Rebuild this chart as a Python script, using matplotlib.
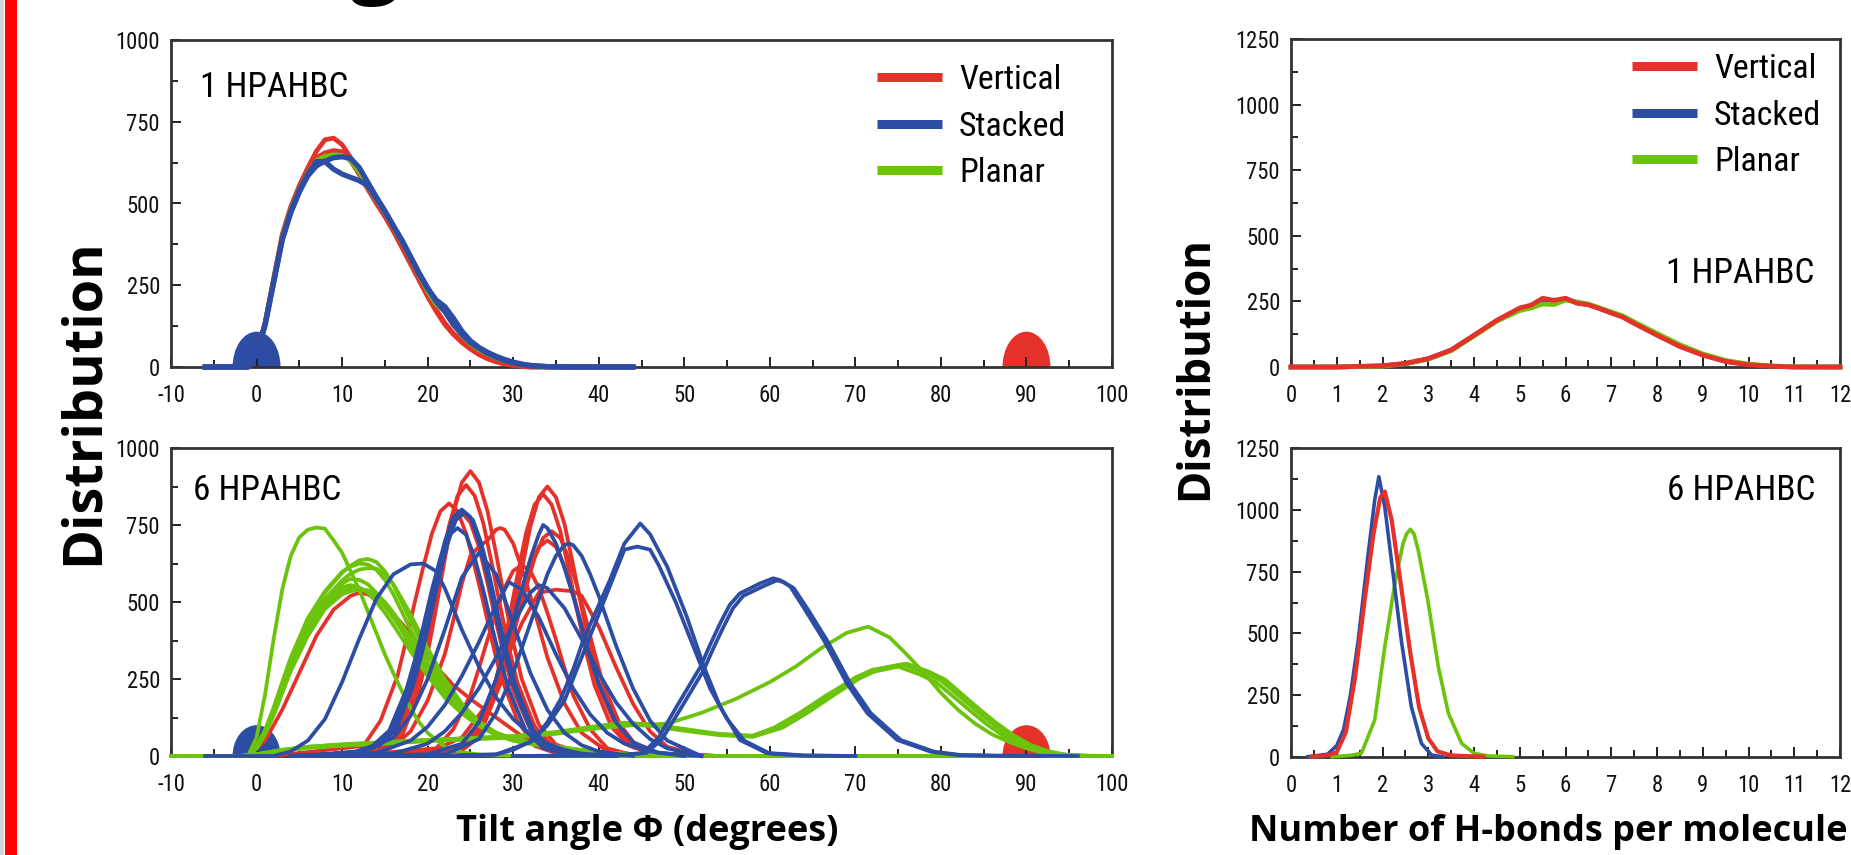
import os
import matplotlib
matplotlib.use('Agg')
import matplotlib.pyplot as plt
from matplotlib import font_manager as fm
from matplotlib.font_manager import FontProperties
from matplotlib.patches import Ellipse, Rectangle
from matplotlib.lines import Line2D
from matplotlib.ticker import MultipleLocator

# ---------------- data ----------------
series_names = ['Vertical', 'Stacked', 'Planar']
ref_angle_stacked = 0
ref_angle_vertical = 90

# Panel: tilt angle, 1 HPAHBC
tilt1_x = [-6, -1, 0, 1, 2, 3, 4, 5, 6, 7, 8, 9, 10, 11, 12, 13, 14, 15, 16, 17, 18, 19,
           20, 21, 22, 23, 24, 25, 26, 27, 28, 29, 30, 31, 32, 34, 36, 44]
tilt1_vertical = [
    [0, 0, 40, 135, 270, 405, 490, 555, 610, 660, 695, 700, 680, 640, 590, 545, 500, 460, 415, 365,
     315, 265, 215, 170, 130, 100, 75, 55, 38, 25, 16, 9, 5, 2, 0, 0, 0, 0],
    [0, 0, 40, 135, 268, 400, 485, 548, 600, 640, 655, 662, 658, 630, 590, 545, 505, 462, 418, 370,
     320, 270, 220, 175, 135, 103, 78, 57, 40, 27, 17, 10, 5, 2, 0, 0, 0, 0],
]
tilt1_planar = [
    [0, 0, 38, 132, 265, 398, 482, 545, 595, 632, 645, 650, 648, 630, 595, 550, 510, 470, 425, 380,
     330, 280, 230, 190, 170, 130, 95, 70, 52, 38, 27, 18, 12, 7, 4, 1, 0, 0],
]
tilt1_stacked = [
    [0, 0, 40, 130, 260, 390, 475, 540, 590, 628, 628, 605, 590, 580, 570, 555, 515, 475, 430, 385,
     335, 285, 240, 205, 185, 150, 110, 80, 60, 45, 33, 23, 15, 9, 5, 1, 0, 0],
    [0, 0, 38, 128, 258, 388, 472, 535, 585, 615, 630, 640, 643, 638, 610, 565, 520, 478, 432, 388,
     338, 288, 242, 200, 170, 130, 100, 75, 57, 42, 30, 20, 13, 8, 4, 1, 0, 0],
]

# Panel: tilt angle, 6 HPAHBC  (each curve: x list, y list)
tilt6_vertical = [
    ([5, 15, 17, 19, 20, 21, 22, 23, 24, 25, 26, 27, 28, 29, 30, 31, 33, 35, 38, 44],
     [0, 18, 65, 213, 333, 481, 638, 786, 888, 925, 888, 795, 657, 509, 370, 250, 102, 37, 9, 0]),
    ([5, 14.5, 16.5, 18.5, 19.5, 20.5, 21.5, 22.5, 23.5, 24.5, 25.5, 26.5, 27.5, 28.5, 29.5, 30.5, 32.5, 34.5, 37.5, 44],
     [0, 18, 62, 202, 317, 458, 607, 748, 845, 880, 845, 757, 625, 484, 352, 238, 97, 35, 9, 0]),
    ([2, 12.5, 14.5, 16.5, 17.5, 18.5, 19.5, 20.5, 21.5, 22.5, 23.5, 24.5, 25.5, 26.5, 27.5, 28.5, 30.5, 32.5, 35.5, 42],
     [0, 33, 115, 262, 377, 500, 615, 722, 795, 820, 795, 722, 615, 500, 377, 262, 115, 33, 4, 0]),
    ([5, 14, 16, 18, 19, 20, 21, 22, 23, 24, 25, 26, 27, 28, 29, 30, 32, 34, 37, 44],
     [0, 16, 55, 182, 284, 411, 545, 672, 758, 790, 758, 679, 561, 435, 316, 213, 87, 32, 8, 0]),
    ([5, 14, 16, 18, 20, 22, 23, 24, 25, 26, 27, 28, 28.5, 29, 30, 31, 32, 33, 34, 36, 38, 41, 46],
     [0, 10, 30, 80, 180, 330, 440, 560, 650, 680, 700, 735, 740, 735, 690, 610, 520, 420, 320, 170, 75, 15, 0]),
    ([12, 24, 26, 28, 29, 30, 31, 32, 33, 34, 35, 36, 37, 38, 39, 40, 42, 44, 47, 54],
     [0, 18, 61, 201, 315, 455, 604, 744, 840, 875, 840, 753, 621, 481, 350, 236, 96, 35, 9, 0]),
    ([12, 23.5, 25.5, 27.5, 28.5, 29.5, 30.5, 31.5, 32.5, 33.5, 34.5, 35.5, 36.5, 37.5, 38.5, 39.5, 41.5, 43.5, 46.5, 54],
     [0, 17, 60, 196, 306, 442, 587, 723, 816, 850, 816, 731, 604, 468, 340, 230, 94, 34, 9, 0]),
    ([12, 24.5, 26.5, 28.5, 29.5, 30.5, 31.5, 32.5, 33.5, 34.5, 35.5, 36.5, 37.5, 38.5, 39.5, 40.5, 42.5, 44.5, 47.5, 54],
     [0, 29, 102, 234, 336, 445, 548, 642, 708, 730, 708, 642, 548, 445, 336, 234, 102, 29, 4, 0]),
    ([12, 24, 26, 28, 29, 30, 31, 32, 33, 34, 35, 36, 37, 38, 39, 40, 42, 44, 47, 54],
     [0, 28, 98, 224, 322, 427, 525, 616, 679, 700, 679, 616, 525, 427, 322, 224, 98, 28, 4, 0]),
    ([10, 21, 23, 25, 26, 27, 28, 29, 30, 31, 32, 33, 34, 35, 36, 37, 39, 41, 44, 50],
     [0, 25, 87, 198, 285, 378, 465, 546, 601, 620, 601, 546, 465, 378, 285, 198, 87, 25, 3, 0]),
    ([10, 20, 24, 27, 29, 31, 33, 35, 37, 38, 40, 42, 44, 46, 48, 52],
     [0, 10, 60, 170, 300, 430, 530, 540, 535, 520, 420, 290, 170, 80, 30, 0]),
    ([-6, -1, 1, 3, 5, 7, 9, 11, 12, 13, 15, 17, 19, 21, 23, 25, 27, 29, 31, 33, 36, 40],
     [0, 0, 50, 150, 270, 390, 475, 520, 530, 525, 490, 430, 360, 290, 230, 185, 145, 105, 65, 35, 12, 0]),
]

tilt6_stacked = [
    ([-6, 2, 4, 6, 8, 10, 12, 14, 16, 18, 19.5, 21, 22, 24, 26, 28, 30, 32, 34, 36, 38, 42],
     [0, 0, 15, 50, 120, 240, 380, 510, 590, 622, 625, 600, 545, 410, 290, 190, 120, 70, 40, 20, 8, 0]),
    ([4, 8, 12, 14, 16, 18, 19, 20, 21, 22, 23, 24, 25, 26, 27, 28, 29, 30, 32, 34, 37, 42],
     [0, 5, 15, 35, 88, 232, 336, 456, 584, 696, 776, 800, 776, 696, 584, 456, 336, 232, 88, 28, 5, 0]),
    ([4, 8.3, 12.3, 14.3, 16.3, 18.3, 19.3, 20.3, 21.3, 22.3, 23.3, 24.3, 25.3, 26.3, 27.3, 28.3, 29.3, 30.3, 32.3, 34.3, 37.3, 42],
     [0, 5, 15, 33, 85, 228, 330, 450, 576, 688, 766, 790, 766, 688, 576, 450, 330, 228, 86, 27, 5, 0]),
    ([4, 7.5, 11.5, 13.5, 15.5, 17.5, 18.5, 19.5, 20.5, 21.5, 22.5, 23.5, 24.5, 25.5, 26.5, 27.5, 28.5, 29.5, 31.5, 33.5, 36.5, 42],
     [0, 5, 14, 32, 82, 215, 311, 422, 540, 644, 718, 740, 718, 644, 540, 422, 311, 215, 81, 26, 5, 0]),
    ([4, 12, 16, 18, 20, 22, 24, 26, 28, 30, 32, 34, 36, 38, 40, 44],
     [0, 10, 60, 130, 250, 410, 580, 660, 590, 430, 270, 150, 75, 35, 15, 0]),
    ([4, 14, 18, 20, 22, 24, 26, 28, 29.5, 31, 33, 35, 37, 39, 41, 43, 46, 50],
     [0, 10, 50, 95, 165, 260, 370, 490, 565, 540, 450, 330, 220, 135, 75, 40, 15, 0]),
    ([6, 16, 20, 22, 24, 26, 28, 30, 32, 33, 34, 36, 38, 40, 42, 44, 46, 48, 52],
     [0, 8, 40, 80, 140, 220, 320, 430, 530, 555, 545, 480, 380, 270, 175, 105, 55, 25, 0]),
    ([10, 20, 24, 26, 28, 29, 30, 31, 32, 33, 33.5, 34, 35, 36, 37, 38, 39, 40, 42, 44, 47, 52],
     [0, 5, 40, 110, 250, 340, 440, 540, 640, 720, 750, 740, 690, 610, 520, 420, 320, 235, 110, 45, 10, 0]),
    ([10, 22, 26, 28, 30, 32, 34, 35, 36, 36.5, 37, 38, 39, 40, 42, 44, 46, 48, 52],
     [0, 5, 55, 140, 270, 430, 590, 650, 685, 690, 685, 650, 590, 520, 360, 220, 115, 50, 0]),
    ([20, 28, 30, 32.4, 34, 35.5, 37, 38.2, 40, 41.3, 43, 44.85, 46, 48, 50.3, 52.3, 54.2, 56.5, 59.6, 64, 70],
     [0, 5, 20, 52, 110, 182, 280, 377, 490, 571, 690, 755, 720, 615, 452, 290, 160, 52, 10, 2, 0]),
    ([20, 28, 32, 34, 36, 38, 40, 42, 43, 44.5, 46, 47, 49, 51, 53, 55, 57, 60, 64, 70],
     [0, 5, 45, 100, 180, 320, 460, 600, 670, 680, 670, 620, 500, 360, 220, 120, 50, 8, 1, 0]),
    ([30, 42, 45.2, 47, 49.1, 50.5, 51.9, 53, 54.2, 55.3, 56.5, 58.9, 60.4, 61.2, 62.4, 64, 66.3, 69, 71.4, 74.9, 78.8, 82, 86, 92],
     [0, 2, 10, 60, 160, 225, 290, 360, 431, 490, 528, 561, 577, 571, 550, 480, 377, 236, 139, 52, 14, 3, 1, 0]),
    ([30, 42.4, 45.6, 47.4, 49.5, 50.9, 52.3, 53.4, 54.6, 55.7, 56.9, 59.3, 60.8, 61.6, 62.8, 64.4, 66.7, 69.4, 71.8, 75.3, 79.2, 82.4, 86.4, 96],
     [0, 2, 10, 55, 150, 215, 280, 350, 420, 480, 520, 552, 570, 565, 545, 478, 375, 236, 139, 52, 14, 3, 1, 0]),
]

planar6_cluster_x = [-10, -1, 0, 1, 2, 3, 4, 6, 8, 10, 11, 12, 13, 14, 15, 16, 18, 20, 22, 24, 26, 28, 30, 33, 36, 40, 45, 50, 100]
planar6_cluster = [
    [0, 0, 30, 80, 150, 230, 310, 440, 530, 595, 618, 635, 640, 630, 600, 555, 440, 325, 235, 160, 105, 70, 52, 36, 25, 12, 4, 0, 0],
    [0, 0, 32, 85, 158, 240, 320, 448, 535, 598, 615, 625, 622, 605, 572, 525, 410, 300, 215, 148, 100, 68, 50, 35, 24, 11, 4, 0, 0],
    [0, 0, 28, 78, 145, 222, 298, 415, 505, 560, 575, 572, 558, 530, 495, 455, 360, 270, 195, 140, 98, 68, 50, 34, 22, 10, 3, 0, 0],
    [0, 0, 27, 75, 140, 215, 290, 405, 495, 548, 555, 548, 530, 500, 465, 425, 340, 260, 190, 138, 98, 70, 52, 36, 24, 10, 3, 0, 0],
    [0, 0, 25, 72, 135, 208, 282, 398, 485, 535, 545, 545, 535, 515, 485, 448, 368, 285, 210, 150, 105, 72, 54, 38, 25, 11, 3, 0, 0],
    [0, 0, 24, 70, 132, 204, 276, 390, 478, 525, 535, 540, 538, 525, 500, 465, 385, 300, 222, 158, 110, 76, 56, 40, 27, 12, 4, 0, 0],
    [0, 0, 26, 74, 140, 215, 292, 420, 510, 570, 592, 605, 610, 608, 590, 558, 460, 350, 250, 170, 112, 75, 55, 38, 26, 12, 4, 0, 0],
]
planar6_other = [
    ([-10, -1, 0, 1, 2, 3, 4, 5, 6, 7, 8, 9, 10, 11, 12, 13, 14, 15, 16, 17, 18, 19, 20, 22, 24, 26, 28, 32, 100],
     [0, 0, 60, 200, 380, 540, 650, 710, 735, 742, 738, 700, 660, 600, 540, 470, 400, 330, 268, 210, 155, 110, 75, 30, 12, 5, 2, 0, 0]),
    ([-10, -2, 0, 3, 6, 10, 15, 20, 25, 30, 35, 40, 44, 48, 52, 56, 60, 63, 66, 69, 71.5, 74, 76, 78, 80, 82, 84, 86, 88, 90, 92, 95, 100],
     [0, 0, 5, 20, 30, 38, 45, 52, 58, 65, 75, 90, 100, 105, 140, 185, 240, 290, 350, 400, 420, 385, 330, 270, 205, 150, 105, 70, 45, 25, 10, 2, 0]),
    ([-10, -2, 0, 3, 6, 10, 15, 20, 25, 30, 35, 40, 43, 46, 50, 54, 58, 61, 64, 67, 70, 72, 75.5, 78, 80, 82, 84, 86, 88, 90, 92, 94, 97, 100],
     [0, 0, 5, 18, 28, 35, 42, 50, 56, 62, 75, 95, 105, 100, 85, 70, 65, 95, 145, 200, 255, 280, 298, 272, 245, 198, 150, 105, 65, 35, 15, 5, 0, 0]),
    ([-10, -2, 0, 3, 6, 10, 15, 20, 25, 30, 35, 40, 43, 46, 50, 54, 58, 61.5, 64.5, 67.5, 70.5, 72.5, 76, 78.5, 80.5, 82.5, 84.5, 86.5, 88.5, 90.5, 92.5, 94.5, 97.5, 100],
     [0, 0, 4, 16, 26, 33, 40, 48, 54, 60, 72, 92, 102, 98, 82, 68, 62, 92, 142, 198, 252, 278, 300, 275, 248, 200, 152, 107, 67, 36, 16, 5, 0, 0]),
    ([-10, -2, 0, 3, 6, 10, 15, 20, 25, 30, 35, 40, 43, 46, 50, 54, 58, 60.5, 63.5, 66.5, 69.5, 71.5, 75, 77.5, 79.5, 81.5, 83.5, 85.5, 87.5, 89.5, 91.5, 93.5, 96.5, 100],
     [0, 0, 6, 20, 30, 37, 44, 52, 58, 64, 78, 98, 108, 103, 88, 72, 66, 92, 140, 195, 245, 270, 290, 265, 238, 192, 145, 100, 62, 33, 14, 4, 0, 0]),
]

# Panel: H-bonds, 1 HPAHBC
hb1_x = [0, 1, 2, 2.5, 3, 3.5, 4, 4.5, 5, 5.25, 5.5, 5.75, 6, 6.25, 6.5, 6.75, 7, 7.25, 7.5, 8, 8.5, 9, 9.5, 10, 10.5, 11, 12]
hb1_vertical = [0, 0, 5, 14, 32, 65, 121, 178, 225, 236, 262, 254, 262, 243, 237, 222, 206, 190, 166, 121, 78, 45, 21, 8, 3, 0, 0]
hb1_stacked = [0, 0, 4, 13, 31, 64, 120, 177, 222, 234, 255, 250, 260, 245, 238, 223, 207, 192, 168, 124, 80, 47, 22, 9, 3, 0, 0]
hb1_planar = [0, 0, 3, 12, 30, 62, 118, 175, 215, 225, 240, 238, 255, 248, 240, 225, 210, 195, 172, 128, 85, 50, 25, 11, 4, 1, 0]

# Panel: H-bonds, 6 HPAHBC
hb6_stacked_x = [0.37, 0.8, 1.0, 1.15, 1.3, 1.47, 1.68, 1.83, 1.92, 2.05, 2.23, 2.41, 2.63, 2.85, 3.07, 3.3]
hb6_stacked = [0, 10, 45, 110, 250, 473, 811, 1041, 1135, 1013, 743, 473, 203, 54, 7, 0]
hb6_vertical_x = [0.45, 0.8, 1.0, 1.2, 1.4, 1.6, 1.8, 1.95, 2.05, 2.2, 2.4, 2.6, 2.8, 3.0, 3.2, 3.5, 4.2]
hb6_vertical = [0, 5, 18, 100, 320, 620, 900, 1050, 1075, 960, 700, 430, 200, 75, 22, 5, 0]
hb6_planar_x = [0.9, 1.3, 1.54, 1.83, 2.05, 2.27, 2.45, 2.53, 2.61, 2.69, 2.78, 2.99, 3.22, 3.44, 3.73, 4.0, 4.3, 4.85]
hb6_planar = [0, 5, 14, 149, 446, 703, 865, 905, 922, 902, 838, 635, 365, 176, 54, 14, 3, 0]

# ---------------- style ----------------
RED = '#e4312a'
BLUE = '#2c4da3'
GREEN = '#6cc30c'
colors = {'Vertical': RED, 'Stacked': BLUE, 'Planar': GREEN}


def find_narrow_font():
    prefs = ['liberationsansnarrow-regular', 'arialnarrow', 'arial narrow', 'robotocondensed-regular',
             'notosans-condensed.', 'notosans-condensedregular', 'opensans-condensedregular',
             'opensans_condensed-regular', 'dejavusanscondensed.ttf']
    entries = fm.fontManager.ttflist
    for p in prefs:
        for f in entries:
            if p in os.path.basename(f.fname).lower():
                return FontProperties(fname=f.fname)
    for f in entries:
        if f.stretch in ('condensed', 'semi-condensed') and f.style == 'normal' and f.weight in (400, 'normal', 'regular'):
            return FontProperties(fname=f.fname)
    return FontProperties(family=['Liberation Sans', 'DejaVu Sans'])


NARROW_FP = find_narrow_font()
BOLD = ['Open Sans', 'DejaVu Sans']
plt.rcParams['font.family'] = ['Liberation Sans', 'DejaVu Sans']
plt.rcParams['axes.unicode_minus'] = False

W, H = 1851, 855
fig = plt.figure(figsize=(W / 100, H / 100), dpi=100)
fig.canvas.draw()
renderer = fig.canvas.get_renderer()


def sized(fp, size):
    p = fp.copy()
    p.set_size(size)
    return p


def fit_size(text, target_px, fp, base=20.0):
    t = fig.text(0, 0, text, fontproperties=sized(fp, base))
    w = t.get_window_extent(renderer).width
    t.remove()
    return base * target_px / w


TICK_SIZE = min(fit_size('1000', 43, NARROW_FP) * 1.04, 18)
LEG_SIZE = min(fit_size('Vertical', 102, NARROW_FP), 28)
ANN_SIZE = min(fit_size('1 HPAHBC', 148, NARROW_FP), 28)
TICK_FP = sized(NARROW_FP, TICK_SIZE)
LEG_FP = sized(NARROW_FP, LEG_SIZE)
ANN_FP = sized(NARROW_FP, ANN_SIZE)


def rect(l, r, t, b):
    return [l / W, 1 - b / H, (r - l) / W, (b - t) / H]


ax_tl = fig.add_axes(rect(171, 1112, 40, 367))
ax_bl = fig.add_axes(rect(171, 1112, 448, 756))
ax_tr = fig.add_axes(rect(1291, 1840, 39, 367))
ax_br = fig.add_axes(rect(1291, 1840, 448.4, 756.7))


def style(ax, xlim, ylim, xmaj, xmin, ymaj, ymin):
    ax.set_xlim(*xlim)
    ax.set_ylim(*ylim)
    ax.xaxis.set_major_locator(MultipleLocator(xmaj))
    ax.xaxis.set_minor_locator(MultipleLocator(xmin))
    ax.yaxis.set_major_locator(MultipleLocator(ymaj))
    ax.yaxis.set_minor_locator(MultipleLocator(ymin))
    ax.tick_params(which='both', direction='in', top=False, right=False,
                   width=1.4, color='#222222', labelcolor='#111111')
    ax.tick_params(which='major', length=7.5)
    ax.tick_params(which='minor', length=5)
    ax.tick_params(axis='x', pad=12.5)
    ax.tick_params(axis='y', pad=8)
    for lab in ax.get_xticklabels() + ax.get_yticklabels():
        lab.set_fontproperties(TICK_FP)
    for s in ax.spines.values():
        s.set_linewidth(2.0)
        s.set_color('#333333')


style(ax_tl, (-10, 100), (0, 1000), 10, 5, 250, 125)
style(ax_bl, (-10, 100), (0, 1000), 10, 5, 250, 125)
style(ax_tr, (0, 12), (0, 1250), 1, 0.5, 250, 125)
style(ax_br, (0, 12), (0, 1250), 1, 0.5, 250, 125)

# reference discs (stacked = 0 deg, vertical = 90 deg)
for ax, hh in ((ax_tl, 216), (ax_bl, 200)):
    ax.add_patch(Ellipse((ref_angle_stacked, 0), 5.6, hh, color=BLUE, zorder=1.5, lw=0))
    ax.add_patch(Ellipse((ref_angle_vertical, 0), 5.6, hh, color=RED, zorder=1.5, lw=0))

# top-left curves
for y in tilt1_vertical:
    ax_tl.plot(tilt1_x, y, color=RED, lw=3.4, zorder=3, clip_on=False)
for y in tilt1_planar:
    ax_tl.plot(tilt1_x, y, color=GREEN, lw=3.0, zorder=3.2, clip_on=False)
for y in tilt1_stacked:
    ax_tl.plot(tilt1_x, y, color=BLUE, lw=3.8, zorder=3.4, clip_on=False)

# bottom-left curves
for x, y in tilt6_vertical:
    ax_bl.plot(x, y, color=RED, lw=2.7, zorder=3, clip_on=False)
for y in planar6_cluster:
    ax_bl.plot(planar6_cluster_x, y, color=GREEN, lw=2.7, zorder=3.2, clip_on=False)
for x, y in planar6_other:
    ax_bl.plot(x, y, color=GREEN, lw=2.7, zorder=3.2, clip_on=False)
for x, y in tilt6_stacked:
    ax_bl.plot(x, y, color=BLUE, lw=2.7, zorder=3.4, clip_on=False)

# top-right curves
ax_tr.plot(hb1_x, hb1_stacked, color=BLUE, lw=3.4, zorder=3, clip_on=False)
ax_tr.plot(hb1_x, hb1_planar, color=GREEN, lw=3.4, zorder=3.2, clip_on=False)
ax_tr.plot(hb1_x, hb1_vertical, color=RED, lw=3.4, zorder=3.4, clip_on=False)

# bottom-right curves
ax_br.plot(hb6_planar_x, hb6_planar, color=GREEN, lw=2.6, zorder=3, clip_on=False)
ax_br.plot(hb6_stacked_x, hb6_stacked, color=BLUE, lw=2.6, zorder=3.2, clip_on=False)
ax_br.plot(hb6_vertical_x, hb6_vertical, color=RED, lw=3.0, zorder=3.4, clip_on=False)

# legends, placed so rows and text start land where the reference has them
handles = [Line2D([], [], color=colors[n], lw=6.5, solid_capstyle='butt') for n in series_names]
LEG_PX = LEG_SIZE * 100 / 72.0


def make_legend(ax, anchor, spacing):
    return ax.legend(handles, series_names, loc='upper left', bbox_to_anchor=anchor,
                     frameon=False, borderpad=0, borderaxespad=0,
                     handlelength=65 / LEG_PX, handletextpad=17 / LEG_PX,
                     labelspacing=spacing, prop=LEG_FP)


def place_legend(ax, text_x_px, row0_px, row_gap_px):
    bb = ax.get_window_extent(renderer)
    anchor = [(text_x_px - 82 - bb.x0) / bb.width, 1.0]
    spacing = 0.2
    leg = make_legend(ax, anchor, spacing)
    fig.canvas.draw()
    cs = [t.get_window_extent(renderer) for t in leg.get_texts()]
    gap = (cs[0].y0 + cs[0].y1 - cs[2].y0 - cs[2].y1) / 4.0
    spacing = spacing + (row_gap_px - gap) / LEG_PX
    leg.remove()
    leg = make_legend(ax, anchor, spacing)
    fig.canvas.draw()
    c0 = leg.get_texts()[0].get_window_extent(renderer)
    dy = (H - row0_px) - (c0.y0 + c0.y1) / 2.0
    dx = text_x_px - c0.x0
    anchor = [anchor[0] + dx / bb.width, anchor[1] + dy / bb.height]
    leg.remove()
    return make_legend(ax, anchor, spacing)


place_legend(ax_tl, 959, 80, 46.5)
place_legend(ax_tr, 1714, 69, 46.5)

# panel annotations
ax_tl.text(0.0308, 0.8257, '1 HPAHBC', transform=ax_tl.transAxes, fontproperties=ANN_FP, va='baseline', ha='left')
ax_bl.text(0.0232, 0.831, '6 HPAHBC', transform=ax_bl.transAxes, fontproperties=ANN_FP, va='baseline', ha='left')
ax_tr.text(0.9526, 0.256, '1 HPAHBC', transform=ax_tr.transAxes, fontproperties=ANN_FP, va='baseline', ha='right')
ax_br.text(0.956, 0.8326, '6 HPAHBC', transform=ax_br.transAxes, fontproperties=ANN_FP, va='baseline', ha='right')

# axis titles
fig.text(84 / W, 1 - 402 / H, 'Distribution', rotation=90, ha='center', va='center',
         fontsize=39, fontweight='bold', family=BOLD)
fig.text(1196 / W, 1 - 368 / H, 'Distribution', rotation=90, ha='center', va='center',
         fontsize=31.5, fontweight='bold', family=BOLD)
fig.text(647 / W, 1 - 832 / H, 'Tilt angle \u03a6 (degrees)', ha='center', va='center',
         fontsize=26, fontweight='bold', family=BOLD)
fig.text(1548 / W, 1 - 832 / H, 'Number of H-bonds per molecule', ha='center', va='center',
         fontsize=26, fontweight='bold', family=BOLD)

# slide decorations: left red bar and cut-off heading glyph
fig.add_artist(Rectangle((0, 0), 4 / W, 1, transform=fig.transFigure, color='#d4d4d4', lw=0))
fig.add_artist(Rectangle((5 / W, 0), 12 / W, 1, transform=fig.transFigure, color='#ff0000', lw=0))
fig.text(375 / W, 1 + 15 / H, 'g', fontsize=64, fontweight='bold', family=BOLD,
         ha='center', va='baseline')

fig.savefig('out.png', dpi=100)
